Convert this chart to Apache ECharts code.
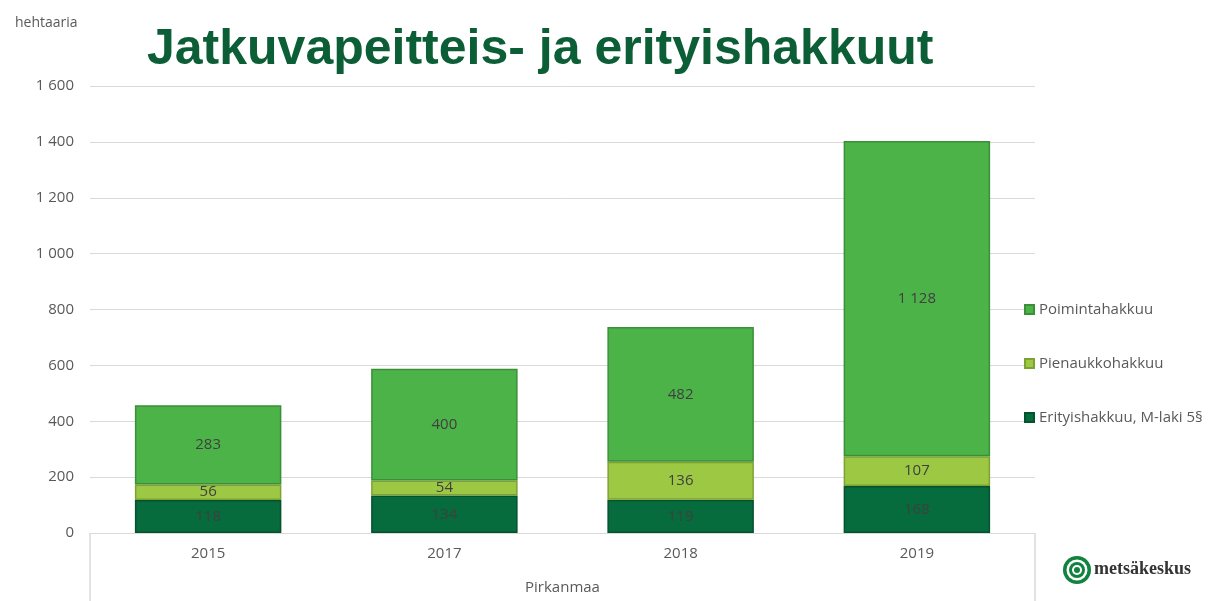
<!DOCTYPE html>
<html>
<head>
<meta charset="utf-8">
<script src="https://cdn.jsdelivr.net/npm/echarts@6/dist/echarts.min.js"></script>
<style>
  html, body { margin: 0; padding: 0; background: #fff; }
  #chart { width: 1208px; height: 601px; }
</style>
</head>
<body>
<div id="chart"></div>
<script>
var years = ['2015', '2017', '2018', '2019'];
var regionLabel = ['Pirkanmaa'];
var erityis = [118, 134, 119, 168];
var pienaukko = [56, 54, 136, 107];
var poiminta = [283, 400, 482, 1128];

// välilyönti tuhaterottimena, kuten suomeksi
function fmt(v) {
  return String(v).replace(/\B(?=(\d{3})+(?!\d))/g, ' ');
}

var labelStyle = {
  show: true,
  position: 'inside',
  color: '#404040',
  fontSize: 15,
  fontFamily: 'Open Sans',
  formatter: function (p) { return fmt(p.value); }
};

function barSeries(name, data, color, border) {
  return {
    name: name,
    type: 'bar',
    stack: 'total',
    data: data,
    barCategoryGap: '38%',
    itemStyle: { color: color, borderColor: border, borderWidth: 1.5 },
    label: labelStyle,
    emphasis: { disabled: true }
  };
}

var chart = echarts.init(document.getElementById('chart'));
var option = {
  animation: false,
  title: {
    text: 'Jatkuvapeitteis- ja erityishakkuut',
    left: 142,
    top: 20,
    textStyle: { color: '#0b5e35', fontSize: 50, fontWeight: 'bold', fontFamily: 'Liberation Sans' }
  },
  legend: {
    orient: 'vertical',
    left: 1019,
    top: 297,
    itemWidth: 9,
    itemHeight: 9,
    itemGap: 39,
    icon: 'rect',
    data: ['Poimintahakkuu', 'Pienaukkohakkuu', 'Erityishakkuu, M-laki 5§'],
    textStyle: { color: '#595959', fontSize: 15, fontFamily: 'Open Sans', padding: [0, 0, 0, 0] }
  },
  grid: { left: 90, right: 173, top: 86, bottom: 68 },
  xAxis: [
    {
      type: 'category',
      data: years,
      axisLine: { show: false },
      axisTick: { show: false },
      axisLabel: { color: '#595959', fontSize: 15, fontFamily: 'Open Sans', margin: 13 }
    },
    {
      type: 'category',
      position: 'bottom',
      data: regionLabel,
      axisLine: { show: true, lineStyle: { color: '#d9d9d9', width: 1 } },
      axisTick: { show: true, length: 68, lineStyle: { color: '#d9d9d9', width: 1.5 } },
      axisLabel: { color: '#595959', fontSize: 15, fontFamily: 'Open Sans', margin: 47 }
    }
  ],
  yAxis: {
    type: 'value',
    name: 'hehtaaria',
    nameLocation: 'end',
    nameGap: 56,
    nameTextStyle: { color: '#595959', fontSize: 14, fontFamily: 'Open Sans', align: 'left', padding: [0, 0, 0, -75] },
    min: 0,
    max: 1600,
    interval: 200,
    axisLine: { show: false },
    axisTick: { show: false },
    splitLine: { lineStyle: { color: '#d9d9d9', width: 1 } },
    axisLabel: { color: '#595959', fontSize: 15, fontFamily: 'Open Sans', margin: 16, formatter: fmt }
  },
  series: [
    barSeries('Erityishakkuu, M-laki 5§', erityis, '#066b3d', '#04522e'),
    barSeries('Pienaukkohakkuu', pienaukko, '#9cc843', '#7da232'),
    barSeries('Poimintahakkuu', poiminta, '#4cb349', '#3b8f38')
  ],
  graphic: [
    {
      type: 'group',
      left: 1063,
      top: 556,
      children: [
        { type: 'circle', shape: { cx: 14, cy: 14, r: 14 }, style: { fill: '#12823f' } },
        { type: 'circle', shape: { cx: 14, cy: 14, r: 10.5 }, style: { fill: '#fff' } },
        { type: 'circle', shape: { cx: 14, cy: 14, r: 8 }, style: { fill: '#12823f' } },
        { type: 'circle', shape: { cx: 14, cy: 14, r: 5 }, style: { fill: '#fff' } },
        { type: 'circle', shape: { cx: 14, cy: 14, r: 3 }, style: { fill: '#12823f' } },
        {
          type: 'text',
          x: 31,
          y: 4,
          style: { text: 'metsäkeskus', fill: '#333', font: 'bold 18px "Liberation Serif"' }
        }
      ]
    }
  ]
};
chart.setOption(option);
</script>
</body>
</html>
